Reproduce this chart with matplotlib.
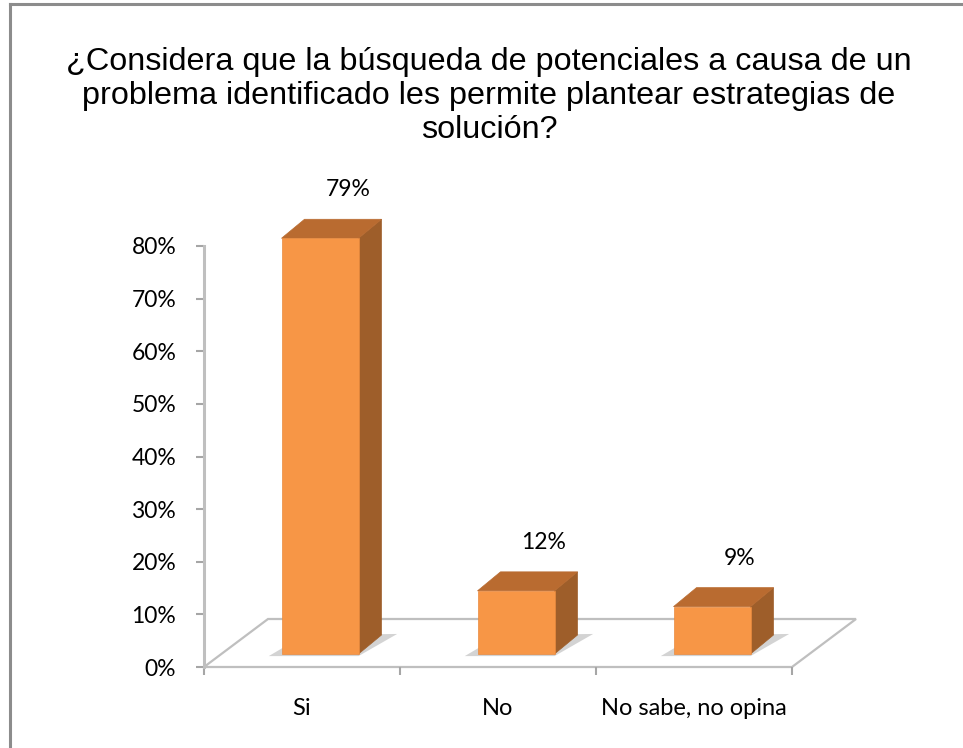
import numpy as np
import matplotlib
matplotlib.use("Agg")
import matplotlib.pyplot as plt
from matplotlib.patches import Polygon
from matplotlib.lines import Line2D

# data
categories = ["Si", "No", "No sabe, no opina"]
values = [79, 12, 9]
value_labels = ["79%", "12%", "9%"]
title = ("¿Considera que la búsqueda de potenciales a causa de un\n"
         "problema identificado les permite plantear estrategias de\n"
         "solución?")

W, H = 963, 748
fig = plt.figure(figsize=(W / 100, H / 100), dpi=100)
fig.patch.set_facecolor("white")

# pixel layout of the plot area
px_per_cat = 196.0
px_per_pct = (667 - 246) / 80.0
x0_px, y0_px = 204, 667
ax_w_px = 680
ax = fig.add_axes([x0_px / W, (H - y0_px) / H, ax_w_px / W, 80 * px_per_pct / H])
ax.set_xlim(0, ax_w_px / px_per_cat)
ax.set_ylim(0, 80)
ax.set_facecolor("none")

grey = "#BFBFBF"
front = "#F79646"
side = "#9E5E2A"
top = "#B96B30"
fs = 16.5

# floor (3d depth offset)
fdx = 64 / px_per_cat
fdy = 48 / px_per_pct
n = len(categories)
floor = Polygon([(0, 0), (n, 0), (n + fdx, fdy), (fdx, fdy)], closed=True,
                facecolor="white", edgecolor=grey, lw=1.6, clip_on=False, zorder=1)
ax.add_patch(floor)

# bars
bw = 77 / px_per_cat
bdx = 23 / px_per_cat
bdy = 19 / px_per_pct
sx = 18 / px_per_cat
sy = 13 / px_per_pct
for i, v in enumerate(values):
    xl = i + 0.5 - bw / 2 + sx
    xr = xl + bw
    yb = sy
    yt = sy + v
    shadow = Polygon([(xl - 0.065, yb - 0.4), (xr, yb - 0.4), (xr + bdx + 0.08, yb + bdy + 0.2),
                      (xl + bdx, yb + bdy)], closed=True, facecolor="#B0B0B0", alpha=0.55,
                     edgecolor="none", clip_on=False, zorder=2)
    ax.add_patch(shadow)
    ax.add_patch(Polygon([(xr, yb), (xr + bdx, yb + bdy), (xr + bdx, yt + bdy), (xr, yt)],
                         closed=True, facecolor=side, edgecolor=side, lw=0.5,
                         clip_on=False, zorder=3))
    ax.add_patch(Polygon([(xl, yt), (xr, yt), (xr + bdx, yt + bdy), (xl + bdx, yt + bdy)],
                         closed=True, facecolor=top, edgecolor=top, lw=0.5,
                         clip_on=False, zorder=3))
    ax.add_patch(Polygon([(xl, yb), (xr, yb), (xr, yt), (xl, yt)], closed=True,
                         facecolor=front, edgecolor="#E98A3E", lw=0.5,
                         clip_on=False, zorder=4))
    ax.annotate(value_labels[i], xy=((xl + xr) / 2, yt), xytext=(20, 35),
                textcoords="offset points", ha="center", va="center",
                fontsize=fs, family="Lato", color="#000000", annotation_clip=False)

# axes styling
for s in ["top", "right"]:
    ax.spines[s].set_visible(False)
ax.spines["left"].set_color(grey)
ax.spines["left"].set_linewidth(2.2)
ax.spines["left"].set_bounds(0, 80)
ax.spines["bottom"].set_visible(False)

ax.set_yticks(np.arange(0, 81, 10))
ax.set_yticklabels([f"{t}%" for t in range(0, 81, 10)])
ax.tick_params(axis="y", direction="out", length=6, width=1.5, color="#A6A6A6",
               pad=14, labelsize=fs, labelcolor="#000000")
for lab in ax.get_yticklabels():
    lab.set_family("Lato")

ax.set_xticks(np.arange(0, n + 1))
ax.set_xticklabels([])
ax.tick_params(axis="x", direction="out", length=6, width=1.5, color="#A6A6A6")
ax.set_xticks(np.arange(n) + 0.5, minor=True)
ax.set_xticklabels(categories, minor=True)
ax.tick_params(axis="x", which="minor", length=0, pad=22, labelsize=fs + 0.5,
               labelcolor="#000000")
for lab in ax.get_xticklabels(minor=True):
    lab.set_family("Lato")

fig.text(489 / W, 1 - 96 / H, title, ha="center", va="center", fontsize=23.3,
         family="Liberation Sans", linespacing=1.18)

# outer chart border (top and left visible)
fig.add_artist(Line2D([10 / W, 1], [1 - 4 / H, 1 - 4 / H], color="#8C8C8C", lw=2.2))
fig.add_artist(Line2D([10 / W, 10 / W], [1 - 4 / H, 0], color="#8C8C8C", lw=2.2))

fig.savefig("out.png", dpi=100)
